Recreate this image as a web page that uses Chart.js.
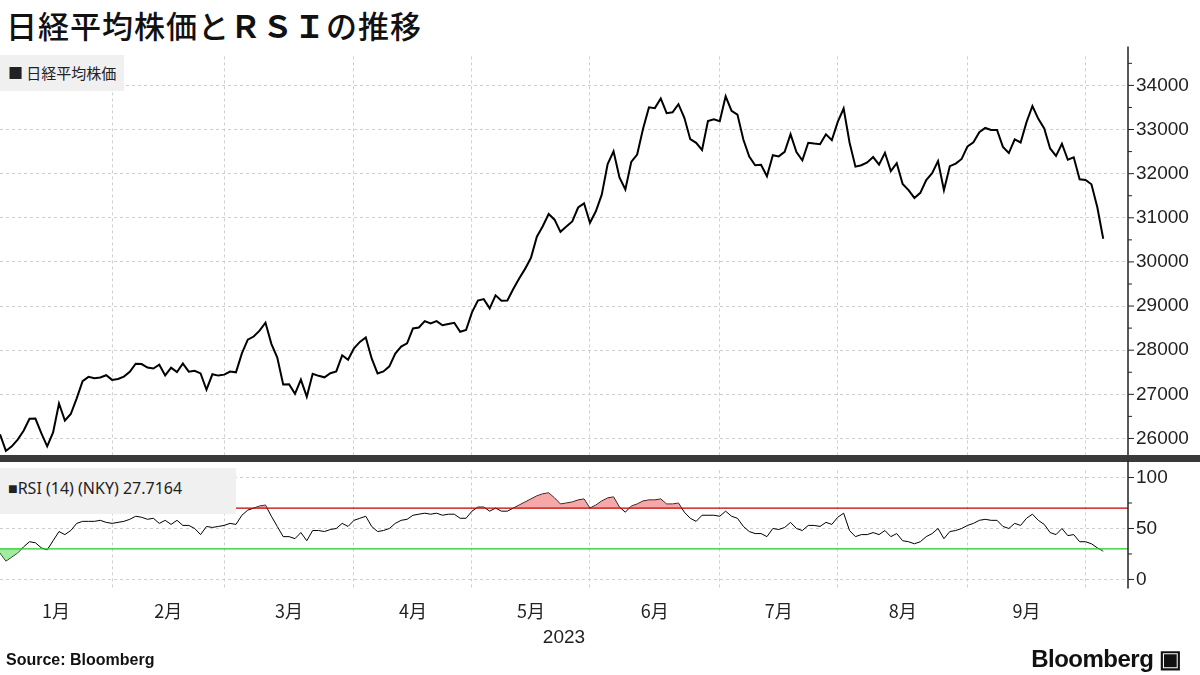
<!DOCTYPE html>
<html><head><meta charset="utf-8">
<script src="https://cdn.jsdelivr.net/npm/chart.js@4"></script>
<style>
body{margin:0;width:1200px;height:675px;background:#fff;position:relative;overflow:hidden;font-family:"Noto Sans CJK JP","Noto Sans",sans-serif}
#title{position:absolute;left:6px;top:2px;font-size:31px;color:#111;letter-spacing:1px;font-weight:500}
#c1{position:absolute;left:0;top:37px}
#c2{position:absolute;left:0;top:451px}
.leg{position:absolute;left:0;background:#f0f0f0;color:#222;font-size:15px;padding:0 8px;line-height:36px}
#sep{position:absolute;left:0;top:455px;width:1200px;height:7px;background:#3a3a3a}
#src{position:absolute;left:6px;top:651px;font:bold 16px "Liberation Sans",sans-serif;color:#111}
#bb{position:absolute;right:18px;top:645px;font:bold 24px "Liberation Sans Narrow","Liberation Sans",sans-serif;color:#111;letter-spacing:-0.5px}
</style></head><body>
<div id="title">日経平均株価と<b>ＲＳＩ</b>の推移</div>
<canvas id="c1" width="1200" height="440"></canvas>
<div id="sep"></div>
<canvas id="c2" width="1200" height="224"></canvas>
<div class="leg" style="top:55px">■ 日経平均株価</div>
<div class="leg" style="top:468px;height:46px;line-height:40px;width:220px;font-family:'Liberation Sans Narrow','Noto Sans',sans-serif;font-size:16px">■RSI (14) (NKY) 27.7164</div>
<div id="src">Source: Bloomberg</div>
<div id="bb">Bloomberg ▣</div>
<script>
const monthLabels=['1月','2月','3月','4月','5月','6月','7月','8月','9月'];
const monthEndIdx=[0,19,38,60,80,100,122,142,164,184];
const nikkei=[26095,
25717,25820,25974,26175,26447,26449,26120,25822,26138,26791,26406,26554,26907,27300,27396,27363,27383,27433,27327,
27347,27402,27509,27694,27686,27607,27585,27671,27427,27603,27502,27697,27514,27532,27473,27104,27454,27424,27446,
27517,27499,27927,28238,28309,28444,28624,28144,27833,27222,27229,27011,27334,26946,27467,27419,27385,27477,27518,27884,27782,28041,
28188,28287,27813,27472,27518,27634,27923,28082,28157,28493,28515,28658,28606,28657,28564,28593,28620,28416,28457,28856,
29123,29157,28949,29242,29122,29126,29388,29626,29842,30093,30573,30808,31086,30957,30682,30801,30916,31233,31328,30888,
31148,31524,32217,32506,31913,31641,32265,32434,33018,33502,33485,33706,33370,33389,33575,33265,32781,32698,32538,33193,33234,33189,
33753,33422,33338,32773,32388,32189,32203,31943,32419,32391,32493,32896,32490,32304,32700,32682,32668,32891,32759,33172,
33476,32707,32159,32192,32254,32377,32204,32473,32059,32238,31766,31626,31450,31565,31856,32010,32287,31624,32169,32227,32333,32619,
32710,32939,33036,32991,32991,32606,32467,32776,32707,33168,33533,33242,33023,32571,32402,32678,32315,32371,31872,31857,
31759,31237,30526];
const rsi=[26,
18,22,26,32,37,36,31,29,38,47,44,48,55,57,57,57,58,56,55,
56,57,59,62,61,59,60,55,58,54,58,53,53,50,44,52,51,52,53,
55,54,63,68,70,72,73,62,52,42,42,40,46,38,48,48,47,49,50,55,52,58,
60,62,52,47,48,50,55,58,59,63,64,65,64,65,63,64,64,60,60,67,
71,71,67,70,67,67,70,73,76,79,82,84,85,80,74,75,76,78,79,70,
73,77,80,81,71,66,72,74,77,78,78,79,74,74,75,66,60,57,63,63,63,62,
67,62,60,52,47,45,45,42,50,49,51,56,50,48,53,53,52,56,54,61,
65,48,42,44,44,46,44,48,42,45,38,37,35,37,42,45,50,40,47,48,50,53,
55,58,59,58,58,52,50,55,53,60,64,58,54,46,44,50,43,44,37,37,
35,31,27.7];
const priceTicks=[26000,27000,28000,29000,30000,31000,32000,33000,34000];
const priceMinor=[25500,26500,27500,28500,29500,30500,31500,32500,33500,34500];
const rsiTicks=[0,50,100];
const rsiMinor=[25,75];
const OB=70, OS=30;

const XMAX=191.2, YW=72;
const gridC='#cfcfcf';
function xScale(){return {type:'linear',min:0,max:XMAX,
  afterBuildTicks:s=>{s.ticks=monthEndIdx.slice(1).map(v=>({value:v}));},
  grid:{color:gridC,drawTicks:false},border:{display:false,dash:[3,3]},
  ticks:{display:false}};}
const tickFont={family:"'Liberation Sans Narrow','Liberation Sans',sans-serif",size:19};
function yAxis(min,max,ticks){return{position:'right',min,max,
  afterBuildTicks:s=>{s.ticks=ticks.map(v=>({value:v}));},
  afterFit:s=>{s.width=YW;},
  grid:{color:gridC,drawTicks:false},
  border:{display:false,dash:[3,3]},
  ticks:{color:'#222',font:tickFont,padding:8,callback:v=>String(v)}};}
const pts=a=>a.map((v,i)=>({x:i,y:v}));
const axisPlugin=minor=>({id:'axl',afterDraw(c){const y=c.scales.y,a=c.chartArea,ctx=c.ctx;
  ctx.save();ctx.strokeStyle='#222';ctx.lineWidth=1.5;ctx.beginPath();ctx.moveTo(a.right,a.top-10);ctx.lineTo(a.right,a.bottom);ctx.stroke();
  ctx.lineWidth=1;
  y.ticks.forEach(t=>{const p=y.getPixelForValue(t.value);ctx.beginPath();ctx.moveTo(a.right,p);ctx.lineTo(a.right+6,p);ctx.stroke();});
  minor.forEach(v=>{const p=y.getPixelForValue(v);if(p<a.top||p>a.bottom)return;ctx.beginPath();ctx.moveTo(a.right,p);ctx.lineTo(a.right+4,p);ctx.stroke();});
  ctx.restore();}});

new Chart(document.getElementById('c1'),{type:'line',
 data:{datasets:[{data:pts(nikkei),borderColor:'#000',borderWidth:2,pointRadius:0,tension:0}]},
 plugins:[axisPlugin(priceMinor)],
 options:{responsive:false,animation:false,events:[],layout:{padding:{top:4,bottom:0,left:0,right:0}},
  plugins:{legend:{display:false},tooltip:{enabled:false}},
  scales:{x:xScale(),y:yAxis(25566,34657,priceTicks)}}});

const refLines={id:'ref',afterDatasetsDraw(c){const y=c.scales.y,a=c.chartArea,ctx=c.ctx;
 [[OB,'#c00000'],[OS,'#22cc22']].forEach(([v,col])=>{const p=y.getPixelForValue(v);
  ctx.save();ctx.strokeStyle=col;ctx.lineWidth=1.3;ctx.beginPath();ctx.moveTo(a.left,p);ctx.lineTo(a.right,p);ctx.stroke();ctx.restore();});}};
new Chart(document.getElementById('c2'),{type:'line',
 data:{datasets:[
  {data:pts(rsi),borderColor:'rgba(0,0,0,0)',pointRadius:0,fill:{target:{value:OB},above:'rgba(240,110,110,0.6)',below:'rgba(0,0,0,0)'}},
  {data:pts(rsi),borderColor:'rgba(0,0,0,0)',pointRadius:0,fill:{target:{value:OS},above:'rgba(0,0,0,0)',below:'rgba(120,230,120,0.7)'}},
  {data:pts(rsi),borderColor:'#000',borderWidth:1,pointRadius:0,tension:0,fill:false}]},
 plugins:[refLines,axisPlugin(rsiMinor)],
 options:{responsive:false,animation:false,events:[],layout:{padding:{top:4,left:0,right:0,bottom:22}},
  plugins:{legend:{display:false},tooltip:{enabled:false}},
  scales:{
   x:xScale(),
   x2:{type:'linear',position:'bottom',min:0,max:XMAX,
    afterBuildTicks:s=>{s.ticks=monthLabels.map((m,i)=>({value:(monthEndIdx[i]+monthEndIdx[i+1])/2}));},
    grid:{display:false},border:{display:false},
    ticks:{color:'#222',font:{family:"'Noto Sans CJK JP',sans-serif",size:18},padding:4,maxRotation:0,autoSkip:false,
     callback:(v,i)=>monthLabels[i]},
    title:{display:true,text:'2023',color:'#222',font:{family:"'Liberation Sans Narrow',sans-serif",size:19},padding:{top:0}}},
   y:yAxis(-9,107,rsiTicks)}}});
</script></body></html>
